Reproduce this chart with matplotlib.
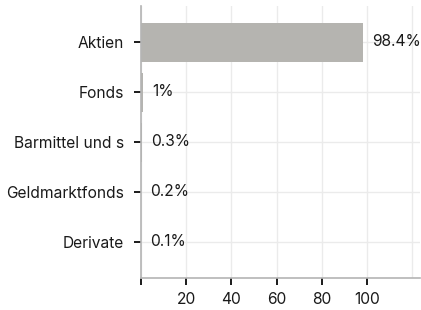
import numpy as np
import matplotlib.pyplot as plt

plt.rcParams['font.family'] = ['Inter', 'DejaVu Sans']

# data
categories = ['Aktien', 'Fonds', 'Barmittel und s', 'Geldmarktfonds', 'Derivate']
values = [98.4, 1, 0.3, 0.2, 0.1]
value_labels = ['98.4%', '1%', '0.3%', '0.2%', '0.1%']
xticks = [0, 20, 40, 60, 80, 100, 120]
xticklabels = ['', '20', '40', '60', '80', '100', '']

fig = plt.figure(figsize=(4.21, 3.10), dpi=100)
ax = fig.add_axes([141/421, 32/310, 279/421, 272/310])

y = np.arange(len(categories))
ax.barh(y, values, height=0.78, color='#b5b4b0', zorder=2)

for yi, v, lab in zip(y, values, value_labels):
    ax.annotate(lab, (v, yi), xytext=(6.5, 0), textcoords='offset points',
                va='center', ha='left', fontsize=11.2, color='#1a1a1a')

ax.set_yticks(y)
ax.set_yticklabels(categories, fontsize=11.2, color='#1a1a1a')
ax.set_xticks(xticks)
ax.set_xticklabels(xticklabels, fontsize=11.2, color='#1a1a1a')
ax.set_xlim(0, 123.5)
ax.set_ylim(4.72, -0.72)

ax.grid(True, color='#ebebeb', linewidth=1, zorder=0)
ax.set_axisbelow(True)
for s in ['top', 'right']:
    ax.spines[s].set_visible(False)
for s in ['left', 'bottom']:
    ax.spines[s].set_color('#b4b4b4')
    ax.spines[s].set_linewidth(1.2)
ax.tick_params(axis='y', length=5, width=1.4, color='#1a1a1a', pad=7)
ax.tick_params(axis='x', length=5, width=1.4, color='#1a1a1a', pad=5)
# hide tick at 120
ax.xaxis.get_major_ticks()[-1].tick1line.set_visible(False)

fig.savefig('out.png', dpi=100)
